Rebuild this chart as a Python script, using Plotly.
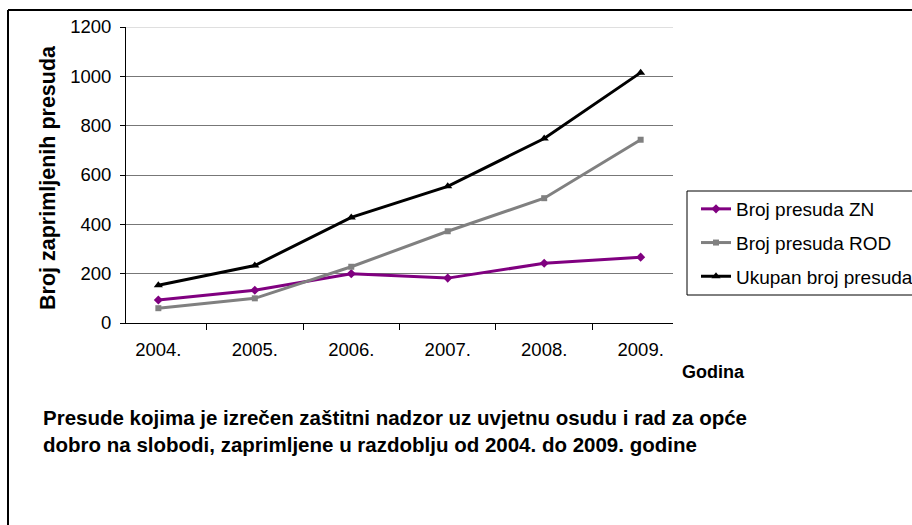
import plotly.graph_objects as go

years = ["2004.", "2005.", "2006.", "2007.", "2008.", "2009."]
zn = [93, 133, 200, 182, 242, 267]
rod = [60, 100, 228, 372, 506, 743]
ukupno = [153, 233, 428, 554, 748, 1015]
series_names = ["Broj presuda ZN", "Broj presuda ROD", "Ukupan broj presuda"]

FONT = "Liberation Sans, Arial, sans-serif"

L, R, T, B = 126, 673, 27, 323
W, H = 912, 525
pw, ph = R - L, B - T

def px(x):
    return (x - L) / pw

def py(y):
    return (B - y) / ph

colors = ["#800080", "#808080", "#000000"]
symbols = ["diamond", "square", "triangle-up"]
sizes = [7, 6, 8]

fig = go.Figure()
for name, vals, c, s, sz in zip(series_names, [zn, rod, ukupno], colors, symbols, sizes):
    fig.add_trace(go.Scatter(x=years, y=vals, name=name, mode="lines+markers",
                             legendgroup=name,
                             line=dict(color=c, width=3),
                             marker=dict(symbol=s, size=sz, color=c)))

fig.update_layout(
    width=W, height=H,
    margin=dict(l=L, r=W - R, t=T, b=H - B, autoexpand=False),
    paper_bgcolor="white", plot_bgcolor="white",
    font=dict(family=FONT, size=18, color="black"),
    showlegend=True,
    legend=dict(x=px(696), y=py(190), xanchor="left", yanchor="top",
                borderwidth=0, bgcolor="rgba(0,0,0,0)",
                font=dict(family=FONT, size=19, color="black"),
                tracegroupgap=6),
    xaxis=dict(type="category", showline=True, linecolor="black", linewidth=1,
               ticks="outside", ticklen=6, tickcolor="black", tickson="boundaries",
               showgrid=False, tickfont=dict(size=18.5), zeroline=False,
               ticklabelstandoff=10),
    yaxis=dict(range=[0, 1200], dtick=200, showline=True, linecolor="black", linewidth=1,
               ticks="outside", ticklen=5, tickcolor="black",
               showgrid=True, gridcolor="#777777", gridwidth=1, zeroline=False,
               tickfont=dict(size=18.5), ticklabelstandoff=5),
    shapes=[
        dict(type="line", xref="paper", yref="y", x0=0, x1=1, y0=1200, y1=1200,
             line=dict(color="#d4d4d4", width=1.5)),
        dict(type="rect", xref="paper", yref="paper", x0=px(687), x1=px(W + 20),
             y0=py(295), y1=py(191), line=dict(color="black", width=1)),
        dict(type="line", xref="paper", yref="paper", x0=px(8), x1=px(W + 20),
             y0=py(10), y1=py(10), line=dict(color="black", width=2)),
        dict(type="line", xref="paper", yref="paper", x0=px(8), x1=px(8),
             y0=py(10), y1=py(H + 20), line=dict(color="black", width=2)),
    ],
    annotations=[
        dict(text="<b>Broj zaprimljenih presuda</b>", xref="paper", yref="paper",
             x=px(48), y=py(178), xanchor="center", yanchor="middle",
             textangle=-90, showarrow=False,
             font=dict(family=FONT, size=21.5, color="black")),
        dict(text="<b>Godina</b>", xref="paper", yref="paper",
             x=px(680), y=py(372), xanchor="left", yanchor="middle", showarrow=False,
             font=dict(family=FONT, size=18, color="black")),
        dict(text="<b>Presude kojima je izrečen zaštitni nadzor uz uvjetnu osudu i rad za opće</b>",
             xref="paper", yref="paper", x=px(41), y=py(417), xanchor="left",
             yanchor="middle", showarrow=False,
             font=dict(family=FONT, size=20.5, color="black")),
        dict(text="<b>dobro na slobodi, zaprimljene u razdoblju od 2004. do 2009. godine</b>",
             xref="paper", yref="paper", x=px(41), y=py(444), xanchor="left",
             yanchor="middle", showarrow=False,
             font=dict(family=FONT, size=20.5, color="black")),
    ],
)

fig.write_html("out.html", config={"displayModeBar": False},
               post_script="document.body.style.margin='0';")
